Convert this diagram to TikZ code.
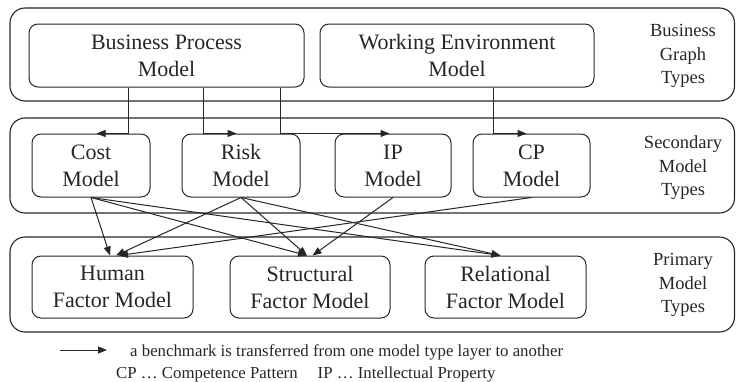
\documentclass[tikz,border=0pt]{standalone}
\usepackage{fontspec}
\setmainfont{Liberation Serif}
\usetikzlibrary{arrows.meta}
\colorlet{ink}{black!85}
\tikzset{
  layer/.style={draw=ink, line width=1.1pt, rounded corners=15pt},
  modelbox/.style={draw=ink, line width=1pt, rounded corners=9pt, align=center,
    inner sep=0pt, text=ink, font=\fontsize{22}{27}\selectfont},
  sidelabel/.style={align=center, text=ink, font=\fontsize{18.5}{23.5}\selectfont},
  flow/.style={draw=ink, line width=1pt, -{Triangle[length=9pt,width=7pt]}},
  legendtext/.style={anchor=base west, inner sep=0pt, text=ink, font=\fontsize{16.8}{20}\selectfont}
}
\begin{document}
\begin{tikzpicture}[x=1pt, y=-1pt]
  \useasboundingbox (0,0) rectangle (736,381);

  % three layers
  \draw[layer] (10,8) rectangle (734.5,101);
  \draw[layer] (10,118) rectangle (734.5,213);
  \draw[layer] (10,237) rectangle (734.5,332);

  % layer captions
  \node[sidelabel] (lbl1) at (683,56) {Business\\Graph\\Types};
  \node[sidelabel] (lbl2) at (683,168) {Secondary\\Model\\Types};
  \node[sidelabel] (lbl3) at (683,285) {Primary\\Model\\Types};

  % business graph types
  \node[modelbox, minimum width=275pt, minimum height=63pt] (bpm) at (166.5,55.5) {Business Process\\Model};
  \node[modelbox, minimum width=274pt, minimum height=63pt] (wem) at (457,55.5) {Working Environment\\Model};

  % secondary model types
  \node[modelbox, minimum width=118pt, minimum height=63pt] (cost) at (91,165.5) {Cost\\Model};
  \node[modelbox, minimum width=118pt, minimum height=63pt] (risk) at (241,165.5) {Risk\\Model};
  \node[modelbox, minimum width=116pt, minimum height=63pt] (ip) at (393,165.5) {IP\\Model};
  \node[modelbox, minimum width=117pt, minimum height=63pt] (cp) at (531.5,165.5) {CP\\Model};

  % primary model types
  \node[modelbox, minimum width=161pt, minimum height=62pt] (human) at (112.5,287) {Human\\Factor Model};
  \node[modelbox, minimum width=160pt, minimum height=62pt] (struct) at (310,287) {Structural\\Factor Model};
  \node[modelbox, minimum width=161pt, minimum height=62pt] (rel) at (505.5,287) {Relational\\Factor Model};

  % business graphs feed the secondary models
  \draw[flow] ([xshift=100pt]bpm.south west) |- ([xshift=65pt]cost.north west);
  \draw[flow] ([xshift=175pt]bpm.south west) |- ([xshift=55pt]risk.north west);
  \draw[flow] ([xshift=252pt]bpm.south west) |- ([xshift=55pt]ip.north west);
  \draw[flow] ([xshift=174pt]wem.south west) |- ([xshift=54pt]cp.north west);

  % secondary models feed the primary models
  \draw[flow] (cost.south) -- ([xshift=-2.5pt]human.north);
  \draw[flow] (cost.south) -- ([xshift=-3pt]struct.north);
  \draw[flow] (cost.south) -- ([xshift=-5pt]rel.north);
  \draw[flow] (risk.south) -- ([xshift=3.5pt]human.north);
  \draw[flow] (risk.south) -- ([xshift=-3pt]struct.north);
  \draw[flow] (risk.south) -- ([xshift=-5pt]rel.north);
  \draw[flow] (ip.south) -- ([xshift=2.5pt]struct.north);
  \draw[flow] (cp.south) -- ([xshift=6.5pt]human.north);

  % legend
  \coordinate (legfrom) at (60,350);
  \coordinate (legto) at (107,350);
  \draw[flow] (legfrom) -- (legto);
  \node[legendtext] (legend1) at (130,356.5) {a benchmark is transferred from one model type layer to another};
  \node[legendtext] (legend2) at (116,378) {CP … Competence Pattern\hspace{20pt}IP … Intellectual Property};
\end{tikzpicture}
\end{document}
